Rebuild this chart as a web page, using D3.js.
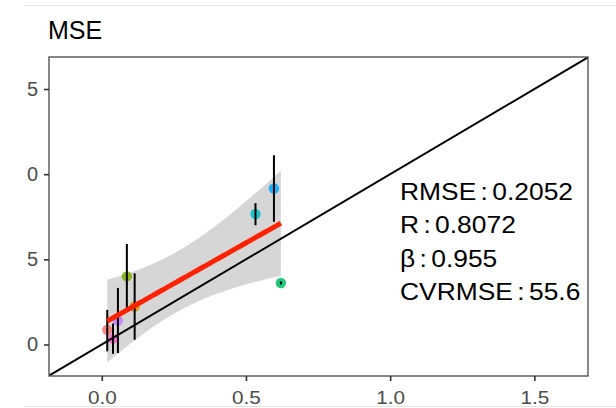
<!DOCTYPE html>
<html>
<head>
<meta charset="utf-8">
<script src="https://cdn.jsdelivr.net/npm/d3@7"></script>
<style>
  html, body { margin: 0; padding: 0; background: #fff; }
  svg { display: block; font-family: "Liberation Sans", Arial, Helvetica, sans-serif; }
</style>
</head>
<body>
<svg id="chart" width="616" height="408"></svg>
<script>
// Observed (x) vs estimated (y) per group, with interval bounds
const groups   = ["A", "B", "C", "D", "E", "F", "G", "H"];
const colors   = ["#F8766D", "#FF61CC", "#C77CFF", "#7CAE00", "#CD9600", "#00BFC4", "#00A9FF", "#00BE67"];
const xValues  = [0.019, 0.039, 0.056, 0.087, 0.114, 0.533, 0.597, 0.621];
const yValues  = [0.086, 0.033, 0.140, 0.400, 0.223, 0.766, 0.916, 0.361];
const yLower   = [-0.040, -0.055, -0.050, 0.210, 0.028, 0.700, 0.720, 0.352];
const yUpper   = [0.203, 0.123, 0.332, 0.590, 0.418, 0.830, 1.111, 0.370];

const xTicks = [0, 0.5, 1.0, 1.5];
const xTickLabels = ["0.0", "0.5", "1.0", "1.5"];
const yTicks = [0, 0.5, 1.0, 1.5];
const yTickLabels = ["0", "5", "0", "5"];

const title = "MSE";
const statLines = ["RMSE : 0.2052", "R : 0.8072", "\u03B2 : 0.955", "CVRMSE : 55.6"];

const svg = d3.select("#chart");

const panel = { left: 49, top: 57, right: 588, bottom: 376 };
const x = d3.scaleLinear().domain([-0.183, 1.686]).range([panel.left, panel.right]);
const y = d3.scaleLinear().domain([-0.185, 1.688]).range([panel.bottom, panel.top]);

// faint frame lines
svg.append("line").attr("x1", 24).attr("x2", 616).attr("y1", 5.5).attr("y2", 5.5)
  .attr("stroke", "#e6e6e6").attr("stroke-width", 1);
svg.append("line").attr("x1", 24).attr("x2", 616).attr("y1", 406.5).attr("y2", 406.5)
  .attr("stroke", "#e6e6e6").attr("stroke-width", 1);

svg.append("defs").append("clipPath").attr("id", "panelClip")
  .append("rect").attr("x", panel.left).attr("y", panel.top)
  .attr("width", panel.right - panel.left).attr("height", panel.bottom - panel.top);

const data = groups.map((g, i) => ({
  g, color: colors[i], x: xValues[i], y: yValues[i], lo: yLower[i], hi: yUpper[i]
}));

// ordinary least squares fit with 95% confidence band
const n = data.length;
const mx = d3.mean(data, d => d.x), my = d3.mean(data, d => d.y);
const sxx = d3.sum(data, d => (d.x - mx) ** 2);
const sxy = d3.sum(data, d => (d.x - mx) * (d.y - my));
const slope = sxy / sxx, intercept = my - slope * mx;
const sse = d3.sum(data, d => (d.y - (intercept + slope * d.x)) ** 2);
const s = Math.sqrt(sse / (n - 2));
const tCrit = 2.446912; // t(0.975, df = 6)
const [xmin, xmax] = d3.extent(data, d => d.x);
const band = d3.range(0, 81).map(k => {
  const xv = xmin + (xmax - xmin) * k / 80;
  const fit = intercept + slope * xv;
  const se = s * Math.sqrt(1 / n + (xv - mx) ** 2 / sxx);
  return { x: xv, fit, lo: fit - tCrit * se, hi: fit + tCrit * se };
});

const plot = svg.append("g");

plot.append("path").datum(band)
  .attr("d", d3.area().x(d => x(d.x)).y0(d => y(d.lo)).y1(d => y(d.hi)))
  .attr("fill", "#999999").attr("fill-opacity", 0.4);

plot.selectAll("circle.pt").data(data).join("circle")
  .attr("class", "pt")
  .attr("cx", d => x(d.x)).attr("cy", d => y(d.y)).attr("r", 5.2)
  .attr("fill", d => d.color).attr("fill-opacity", 0.85);

plot.selectAll("line.err").data(data).join("line")
  .attr("class", "err")
  .attr("x1", d => x(d.x)).attr("x2", d => x(d.x))
  .attr("y1", d => y(d.lo)).attr("y2", d => y(d.hi))
  .attr("stroke", "#000").attr("stroke-width", 2);

plot.append("path").datum(band)
  .attr("d", d3.line().x(d => x(d.x)).y(d => y(d.fit)))
  .attr("fill", "none").attr("stroke", "#FF2200").attr("stroke-width", 5);

// 1:1 reference line
plot.append("line")
  .attr("clip-path", "url(#panelClip)")
  .attr("x1", x(-0.2)).attr("y1", y(-0.2)).attr("x2", x(1.7)).attr("y2", y(1.7))
  .attr("stroke", "#000").attr("stroke-width", 2);

// panel border
svg.append("rect")
  .attr("x", panel.left).attr("y", panel.top)
  .attr("width", panel.right - panel.left).attr("height", panel.bottom - panel.top)
  .attr("fill", "none").attr("stroke", "#555").attr("stroke-width", 1.4);

// x axis
const xAxis = svg.append("g").attr("transform", `translate(0,${panel.bottom})`)
  .call(d3.axisBottom(x).tickValues(xTicks).tickSize(5).tickPadding(10)
    .tickFormat((d, i) => xTickLabels[i]));
xAxis.select(".domain").remove();
xAxis.selectAll(".tick line").attr("stroke", "#333").attr("stroke-width", 1.6);
xAxis.selectAll(".tick text").attr("fill", "#4d4d4d").style("font-size", "18px")
  .style("font-family", "'Liberation Sans', Arial, sans-serif")
  .attr("transform", "scale(1.15,1)");

// y axis
const yAxis = svg.append("g").attr("transform", `translate(${panel.left},0)`)
  .call(d3.axisLeft(y).tickValues(yTicks).tickSize(5).tickPadding(6)
    .tickFormat((d, i) => yTickLabels[i]));
yAxis.select(".domain").remove();
yAxis.selectAll(".tick line").attr("stroke", "#333").attr("stroke-width", 1.6);
yAxis.selectAll(".tick text").attr("fill", "#4d4d4d").style("font-size", "20px")
  .style("font-family", "'Liberation Sans', Arial, sans-serif");

// title
svg.append("text").attr("x", 48).attr("y", 39).text(title)
  .attr("fill", "#000").style("font-size", "25px");

// fit statistics
svg.append("g").selectAll("text").data(statLines).join("text")
  .attr("transform", (d, i) => `translate(400,${199.5 + i * 33.5}) scale(1.1,1)`)
  .text(d => d).attr("fill", "#000").style("font-size", "24px")
  .style("word-spacing", "-2.7px");
</script>
</body>
</html>
